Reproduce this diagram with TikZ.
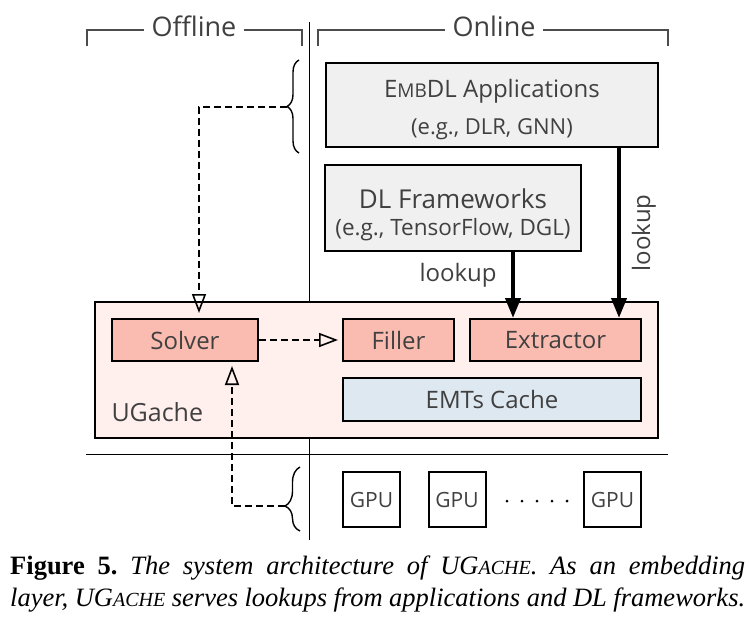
\documentclass[tikz,border=0pt]{standalone}
\usepackage{fontspec}
\setmainfont{Open Sans}
\newfontfamily\capfont{Liberation Serif}
\usetikzlibrary{arrows.meta,positioning,decorations.pathreplacing}

\definecolor{boxgrey}{HTML}{F0F0F0}
\definecolor{cachepink}{HTML}{FFF0EE}
\definecolor{partsalmon}{HTML}{FABCB0}
\definecolor{emtblue}{HTML}{DEE8F1}
\definecolor{txtgrey}{HTML}{404040}

\newcommand{\fs}[1]{\fontsize{#1}{#1}\selectfont}
\newcommand{\capsc}[1]{{\fontsize{20}{32}\selectfont #1}}

\tikzset{
  box/.style={draw,line width=2pt,text=txtgrey,align=center,inner sep=0pt},
  part/.style={box,fill=partsalmon,minimum height=42pt,font=\fs{24}},
  gpubox/.style={box,fill=white,minimum width=57pt,minimum height=55pt,font=\fs{21}},
  bracket/.style={line width=2pt,draw=black!70},
  sidelabel/.style={text=txtgrey,font=\fs{27},inner xsep=7pt,inner ysep=0pt},
  dasharrow/.style={line width=2pt,dash pattern=on 7pt off 4pt,-{Triangle[open,length=19pt,width=14pt,line width=1.6pt]}},
  lookuparrow/.style={line width=4pt,-{Triangle[length=20pt,width=15pt]}},
  sidebrace/.style={decorate,decoration={brace,amplitude=#1},line width=1.4pt},
}

\begin{document}
\begin{tikzpicture}[x=1pt,y=-1pt]
  \useasboundingbox (0,0) rectangle (749,624);

  % offline / online split
  \node[sidelabel] (offline) at (194,26) {Offline};
  \node[sidelabel] (online) at (494,26) {Online};
  \draw[bracket] (offline.west |- 0,30) -| (87,46);
  \draw[bracket] (offline.east |- 0,30) -| (302,46);
  \draw[bracket] (online.west |- 0,30) -| (318,46);
  \draw[bracket] (online.east |- 0,30) -| (668,46);
  \draw[line width=1pt] (309,22) -- (309,540);
  \draw[line width=1pt] (86,454) -- (668,454);

  % upper layers
  \node[box,fill=boxgrey,minimum width=332pt,minimum height=84pt] (embdl) at (492,105)
    {\fs{24}\rule{0pt}{27pt}E{\fs{19}MB}DL Applications\\[14pt]\fs{22}(e.g., DLR, GNN)};
  \node[box,fill=boxgrey,minimum width=256pt,minimum height=86pt] (dlfw) at (453,208)
    {\fs{26}\rule{0pt}{34pt}DL Frameworks\\[8.5pt]\fs{22.5}(e.g., TensorFlow, DGL)};

  % ugache
  \node[box,fill=cachepink,minimum width=563pt,minimum height=136pt] (ugache) at (376.5,370) {};
  \node[text=txtgrey,font=\fs{25},anchor=west] (uglabel) at (108,412) {UGache};
  \node[part,minimum width=146pt] (solver) at (185,340) {Solver};
  \node[part,minimum width=111pt] (filler) at (398.5,340) {Filler};
  \node[part,minimum width=171pt] (extractor) at (555.5,340) {Extractor};
  \node[box,fill=emtblue,minimum width=298pt,minimum height=43pt,font=\fs{24}] (emts) at (492,399.5) {EMTs Cache};

  % gpus
  \node[gpubox] (gpuA) at (371.5,499.5) {GPU};
  \node[gpubox] (gpuB) at (457,499.5) {GPU};
  \node[gpubox] (gpuC) at (612.5,499.5) {GPU};
  \foreach \i in {0,...,4}
    \fill (507+\i*15,501) circle (1.5pt);

  % braces
  \draw[sidebrace=12pt] (299,153) -- (299,60);
  \draw[sidebrace=15pt,decoration={aspect=0.39}] (300,531) -- (300,467);
  \coordinate (tipA) at (287,106.5);
  \coordinate (tipB) at (285,506);

  % lookups
  \draw[lookuparrow] ([xshift=60pt]dlfw.south) -- ([xshift=60pt]dlfw.south |- extractor.north) node[pos=0.35,left=11pt,text=txtgrey,font=\fs{24}] (lookA) {lookup};
  \draw[lookuparrow] ([xshift=127pt]embdl.south) -- ([xshift=127pt]embdl.south |- extractor.north) node[pos=0.5,rotate=90,anchor=north,inner ysep=11pt,inner xsep=0pt,text=txtgrey,font=\fs{24}] (lookB) {lookup};

  % offline control
  \draw[dasharrow] (tipA) -| ([xshift=14pt,yshift=5pt]solver.north);
  \draw[dasharrow] (tipB) -| ([xshift=47pt,yshift=-4pt]solver.south);
  \draw[dasharrow] (solver.east) -- ([xshift=-4pt]filler.west);

  % caption
  \node[anchor=north west,text width=735pt,align=justify,inner sep=0pt,font=\capfont\fontsize{26.5}{32}\selectfont] (caption) at (10,556)
    {\frenchspacing\parfillskip=0pt \textbf{Figure 5.} \textit{The system architecture of UG\capsc{ACHE}. As an embedding\linebreak layer, UG\capsc{ACHE} serves lookups from applications and DL frameworks.}};
\end{tikzpicture}
\end{document}
